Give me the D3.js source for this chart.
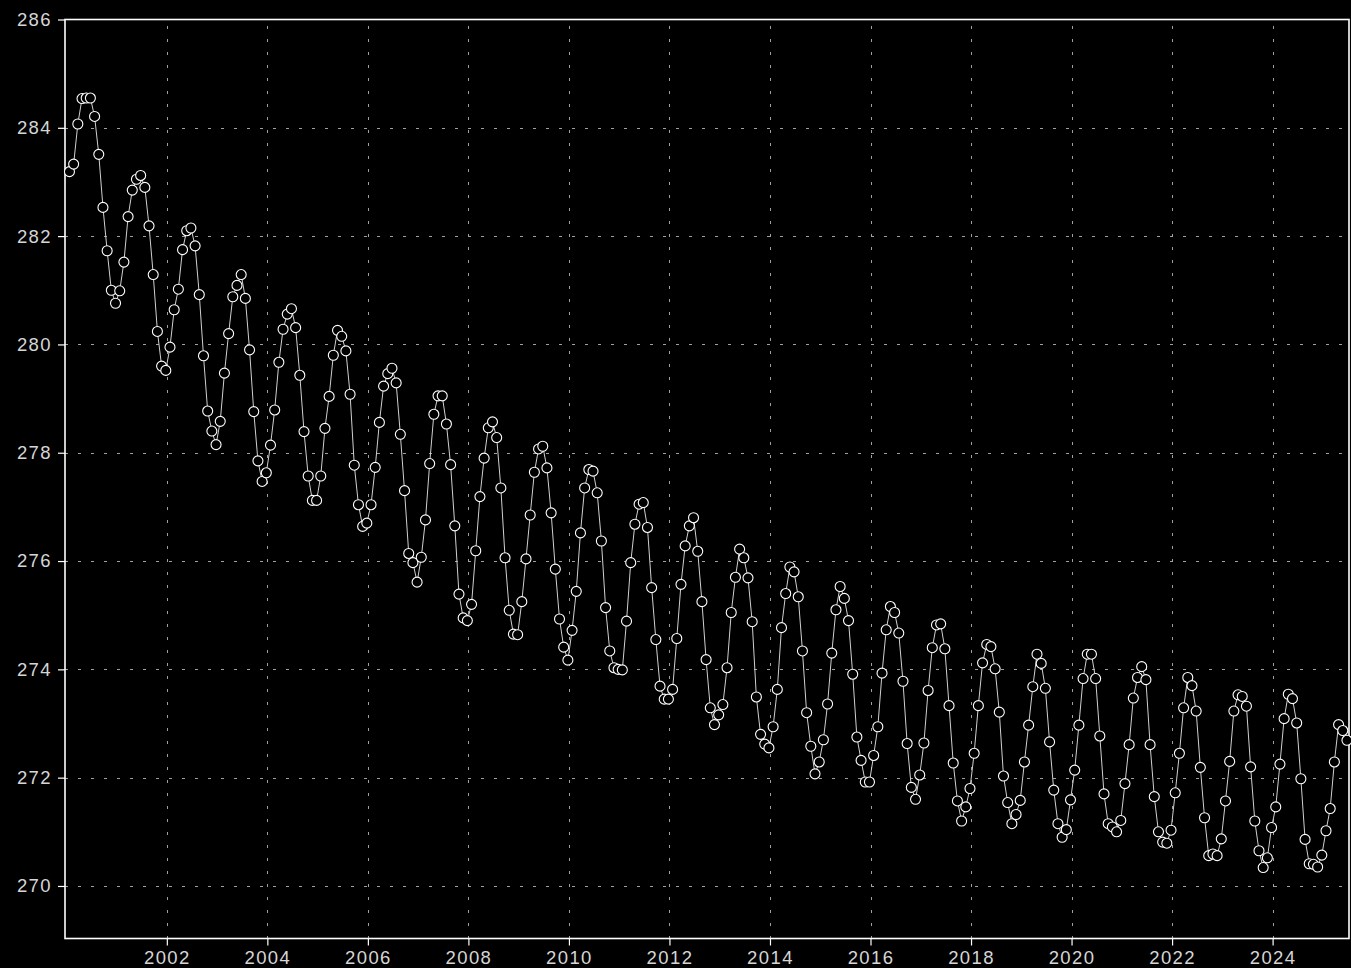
<!DOCTYPE html>
<html>
<head>
<meta charset="utf-8">
<script src="https://cdn.jsdelivr.net/npm/d3@7/dist/d3.min.js"></script>
<style>
  html, body { margin: 0; padding: 0; background: #000; overflow: hidden; }
  svg { display: block; }
</style>
</head>
<body>
<svg id="chart" width="1351" height="968"></svg>
<script>
// Monthly series, first value in January 2000
const startYear = 2000;
const values = [
  283.19, 283.33, 284.07, 284.54, 284.55, 284.55, 284.21, 283.51, 282.53, 281.73, 281.00, 280.76,
  280.99, 281.52, 282.36, 282.85, 283.05, 283.12, 282.90, 282.19, 281.29, 280.24, 279.60, 279.52,
  279.95, 280.64, 281.02, 281.75, 282.10, 282.15, 281.82, 280.92, 279.79, 278.77, 278.40, 278.15,
  278.58, 279.47, 280.20, 280.88, 281.09, 281.29, 280.85, 279.90, 278.76, 277.85, 277.47, 277.63,
  278.14, 278.79, 279.67, 280.28, 280.56, 280.66, 280.31, 279.43, 278.39, 277.57, 277.12, 277.12,
  277.57, 278.45, 279.04, 279.80, 280.26, 280.15, 279.88, 279.08, 277.77, 277.04, 276.64, 276.70,
  277.04, 277.73, 278.56, 279.23, 279.46, 279.56, 279.29, 278.34, 277.30, 276.14, 275.97, 275.61,
  276.07, 276.76, 277.80, 278.71, 279.05, 279.05, 278.53, 277.78, 276.65, 275.39, 274.95, 274.90,
  275.20, 276.19, 277.19, 277.90, 278.46, 278.57, 278.28, 277.35, 276.06, 275.09, 274.65, 274.64,
  275.25, 276.04, 276.85, 277.64, 278.07, 278.12, 277.72, 276.89, 275.85, 274.93, 274.41, 274.17,
  274.72, 275.44, 276.52, 277.35, 277.69, 277.66, 277.26, 276.37, 275.14, 274.34, 274.03, 274.00,
  273.99, 274.89, 275.97, 276.68, 277.05, 277.08, 276.62, 275.51, 274.55, 273.69, 273.45, 273.45,
  273.63, 274.57, 275.57, 276.28, 276.65, 276.80, 276.18, 275.25, 274.18, 273.29, 272.98, 273.16,
  273.35, 274.03, 275.05, 275.70, 276.22, 276.06, 275.69, 274.88, 273.49, 272.80, 272.62, 272.55,
  272.94, 273.63, 274.77, 275.40, 275.89, 275.80, 275.34, 274.34, 273.20, 272.58, 272.07, 272.29,
  272.70, 273.36, 274.30, 275.10, 275.53, 275.31, 274.90, 273.91, 272.75, 272.32, 271.92, 271.92,
  272.41, 272.94, 273.93, 274.73, 275.16, 275.05, 274.67, 273.78, 272.63, 271.82, 271.60, 272.05,
  272.64, 273.61, 274.40, 274.82, 274.84, 274.38, 273.33, 272.27, 271.57, 271.20, 271.46, 271.80,
  272.45, 273.33, 274.12, 274.46, 274.42, 274.01, 273.21, 272.03, 271.54, 271.15, 271.32, 271.58,
  272.29, 272.97, 273.68, 274.28, 274.11, 273.65, 272.66, 271.77, 271.15, 270.90, 271.04, 271.59,
  272.14, 272.97, 273.83, 274.28, 274.28, 273.83, 272.77, 271.70, 271.15, 271.09, 271.00, 271.21,
  271.89, 272.61, 273.47, 273.85, 274.05, 273.81, 272.61, 271.65, 271.00, 270.81, 270.79, 271.03,
  271.72, 272.45, 273.29, 273.85, 273.70, 273.23, 272.19, 271.26, 270.56, 270.59, 270.56, 270.87,
  271.57, 272.30, 273.23, 273.53, 273.50, 273.32, 272.20, 271.20, 270.65, 270.34, 270.52, 271.08,
  271.46, 272.25, 273.09, 273.54, 273.46, 273.01, 271.98, 270.86, 270.41, 270.40, 270.35, 270.57,
  271.02, 271.43, 272.29, 272.98, 272.87, 272.69
];
const xTickValues = [2002, 2004, 2006, 2008, 2010, 2012, 2014, 2016, 2018, 2020, 2022, 2024];
const yTickValues = [270, 272, 274, 276, 278, 280, 282, 284, 286];

(function draw() {
  // Each month is placed at its decimal-year position
  const series = values.map((v, i) => ({ t: startYear + (i + 0.75) / 12, v }));

  const svg = d3.select("#chart");
  const plotLeft = 65, plotRight = 1349, plotTop = 19.5, plotBottom = 938.5;

  const x = d3.scaleLinear().domain([1999.974, 2025.52]).range([plotLeft, plotRight]);
  const y = d3.scaleLinear().domain([269.03, 286]).range([plotBottom, plotTop]);

  svg.append("rect").attr("width", 1351).attr("height", 968).attr("fill", "#000");

  // Dotted grid
  const grid = svg.append("g").attr("class", "grid");
  grid.append("g")
    .attr("transform", `translate(0,${plotBottom})`)
    .call(d3.axisBottom(x).tickValues(xTickValues).tickSize(-(plotBottom - plotTop)).tickFormat(""))
    .call(g => g.select(".domain").remove())
    .selectAll("line")
    .attr("stroke", "#a0a0a0").attr("stroke-width", 1).attr("stroke-dasharray", "3,10")
    .attr("shape-rendering", "crispEdges");
  grid.append("g")
    .attr("transform", `translate(${plotLeft},0)`)
    .call(d3.axisLeft(y).tickValues(yTickValues.filter(d => d < 286)).tickSize(-(plotRight - plotLeft)).tickFormat(""))
    .call(g => g.select(".domain").remove())
    .selectAll("line")
    .attr("stroke", "#a0a0a0").attr("stroke-width", 1).attr("stroke-dasharray", "3,10")
    .attr("shape-rendering", "crispEdges");

  // Axes with outward ticks and labels
  const fontFamily = "'Liberation Sans', Arial, sans-serif";
  const xAxis = svg.append("g")
    .attr("transform", `translate(0,${plotBottom})`)
    .call(d3.axisBottom(x).tickValues(xTickValues).tickSize(7).tickPadding(6).tickFormat(d3.format("d")));
  const yAxis = svg.append("g")
    .attr("transform", `translate(${plotLeft},0)`)
    .call(d3.axisLeft(y).tickValues(yTickValues).tickSize(7).tickPadding(6).tickFormat(d3.format("d")));
  [xAxis, yAxis].forEach(a => {
    a.select(".domain").remove();
    a.selectAll("line").attr("stroke", "#ffffff").attr("stroke-width", 1.2);
    a.selectAll("text")
      .attr("fill", "#d6d6d6")
      .attr("font-family", fontFamily)
      .attr("font-size", 18.5)
      .attr("letter-spacing", "1.4px");
  });
  // Year labels sit on a baseline just above the bottom edge
  xAxis.selectAll("text").attr("y", 964 - plotBottom).attr("dy", "0");

  // Plot frame
  svg.append("rect")
    .attr("x", plotLeft).attr("y", plotTop)
    .attr("width", plotRight - plotLeft).attr("height", plotBottom - plotTop)
    .attr("fill", "none").attr("stroke", "#ffffff").attr("stroke-width", 1.6);

  // Series line and open markers
  svg.append("path")
    .datum(series)
    .attr("fill", "none")
    .attr("stroke", "#d0d0d0")
    .attr("stroke-width", 1)
    .attr("d", d3.line().x(d => x(d.t)).y(d => y(d.v)));

  svg.append("g")
    .selectAll("circle")
    .data(series)
    .join("circle")
    .attr("cx", d => x(d.t))
    .attr("cy", d => y(d.v))
    .attr("r", 5)
    .attr("fill", "#000")
    .attr("stroke", "#ffffff")
    .attr("stroke-width", 1.1);
})();
</script>
</body>
</html>
